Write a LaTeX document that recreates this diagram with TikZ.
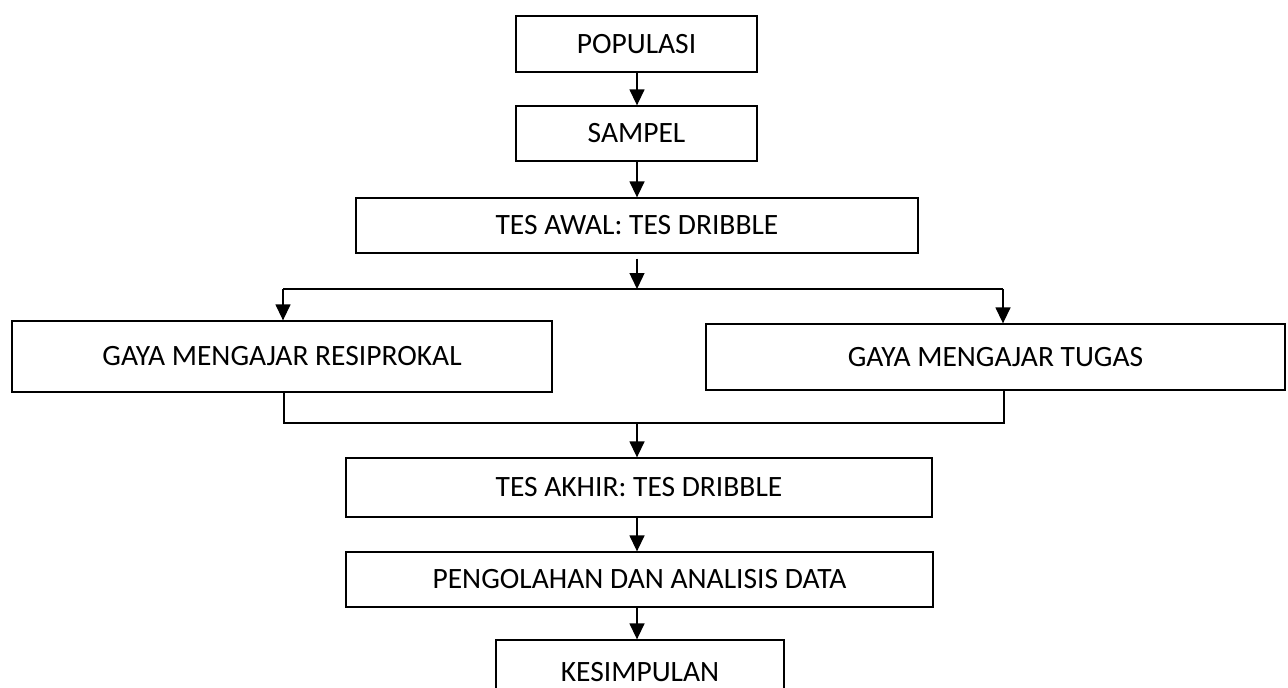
\documentclass[tikz,border=0pt]{standalone}
\usepackage{fontspec}
\setmainfont{Carlito}
\usetikzlibrary{arrows.meta}
\tikzset{
  box/.style={draw=black, line width=1.3pt, rectangle, inner sep=0pt, font=\fontsize{29.5}{35}\selectfont, text=black},
  conn/.style={line width=1.4pt, draw=black},
  arr/.style={conn, -{Triangle[length=16pt,width=15pt]}}
}
\begin{document}
\begin{tikzpicture}[x=1pt,y=-1pt]
\useasboundingbox (0,0) rectangle (1288,688);
\clip (0,0) rectangle (1288,688);
\fill[white] (0,0) rectangle (1288,688);
\node[box, minimum width=241pt, minimum height=56pt] (pop) at (636.5,44) {POPULASI};
\node[box, minimum width=241pt, minimum height=55pt] (sam) at (636.5,133.5) {SAMPEL};
\node[box, minimum width=562pt, minimum height=55pt] (awal) at (637,225.5) {TES AWAL: TES DRIBBLE};
\node[box, minimum width=540pt, minimum height=71pt] (res) at (282,356.5) {GAYA MENGAJAR RESIPROKAL};
\node[box, minimum width=579pt, minimum height=66pt] (tug) at (995.5,357) {GAYA MENGAJAR TUGAS};
\node[box, minimum width=586pt, minimum height=59pt] (akhir) at (639,487.5) {TES AKHIR: TES DRIBBLE};
\node[box, minimum width=587pt, minimum height=55pt] (olah) at (639.5,579.5) {PENGOLAHAN DAN ANALISIS DATA};
\node[box, minimum width=288pt, minimum height=64pt] (kes) at (640,672) {KESIMPULAN};
\coordinate (sl) at (283,289);
\coordinate (sr) at (1003,289);
\coordinate (sm) at (637,289);
\coordinate (ml) at (284,423);
\coordinate (mr) at (1004,423);
\coordinate (mm) at (637,423);
\draw[arr] (pop.south -| sm) -- (sam.north -| sm);
\draw[arr] (sam.south -| sm) -- (awal.north -| sm);
\draw[arr] ([yshift=-5pt]awal.south -| sm) -- (sm);
\draw[conn] (sl) -- (sr);
\draw[arr] (sl) -- (sl |- res.north);
\draw[arr] (sr) -- (sr |- tug.north);
\draw[conn] (ml |- res.south) -- (ml) -- (mr) -- (mr |- tug.south);
\draw[arr] (mm) -- (mm |- akhir.north);
\draw[arr] (akhir.south -| mm) -- (olah.north -| mm);
\draw[arr] (olah.south -| mm) -- (kes.north -| mm);
\end{tikzpicture}
\end{document}
